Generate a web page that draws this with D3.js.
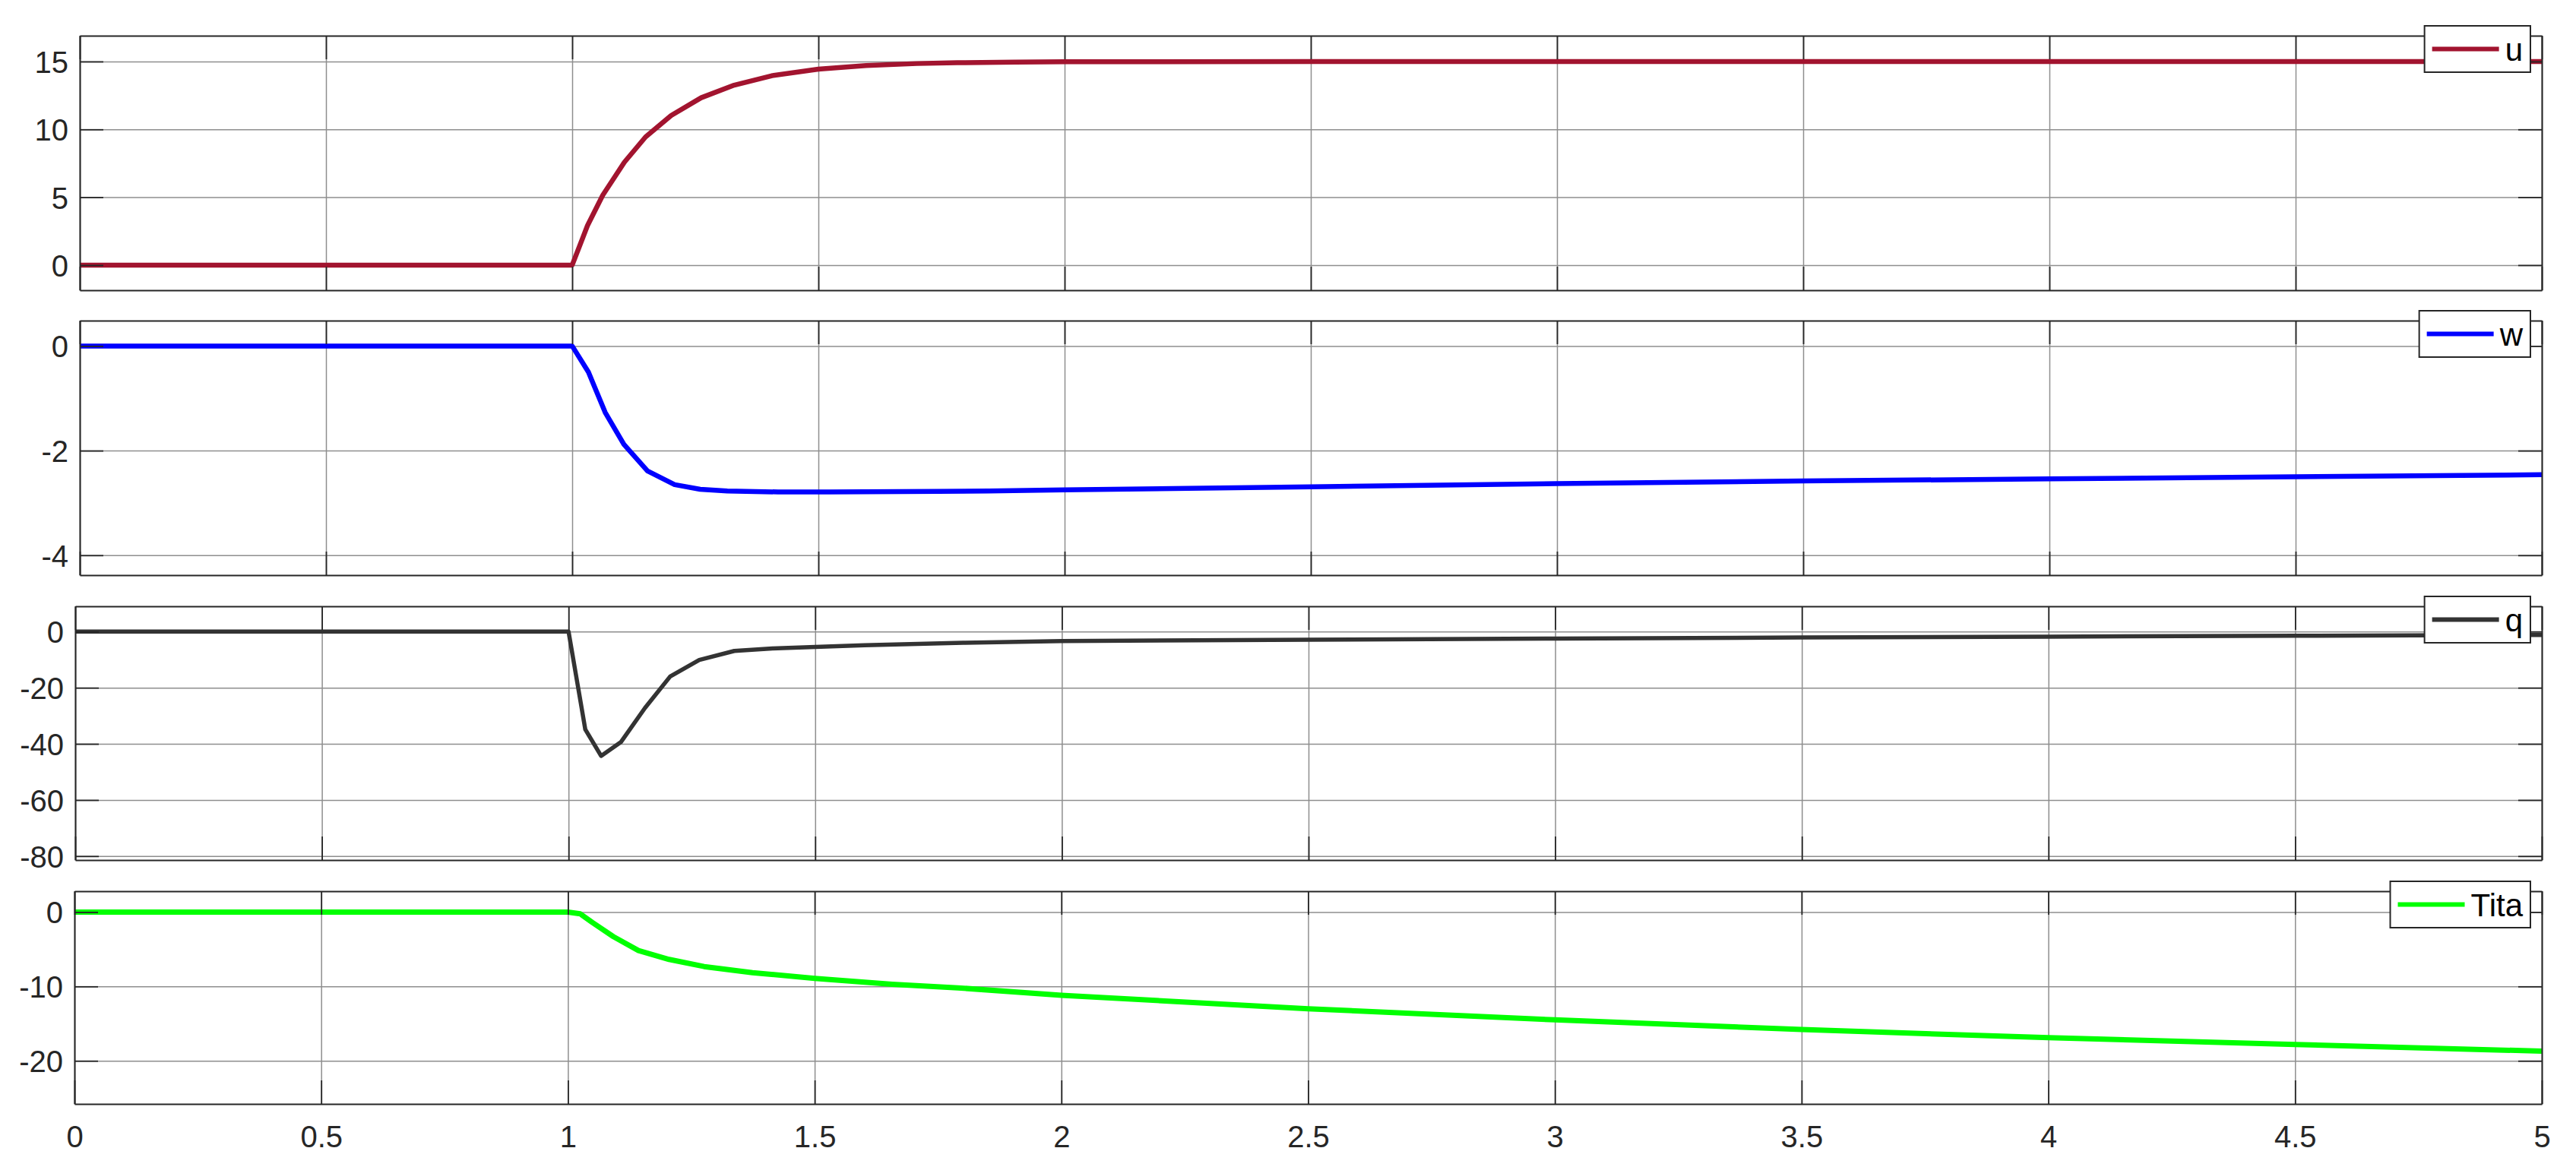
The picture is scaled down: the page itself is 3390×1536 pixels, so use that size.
<!DOCTYPE html>
<html>
<head>
<meta charset="utf-8">
<script src="https://cdn.jsdelivr.net/npm/d3@7"></script>
<style>
  html, body { margin: 0; padding: 0; background: #fff; }
  svg { display: block; }
  text { font-family: "Liberation Sans", Arial, Helvetica, sans-serif; }
</style>
</head>
<body>
<svg id="chart" width="3390" height="1536"></svg>
<script>
// ---------------- data ----------------
const xTicks = [0, 0.5, 1, 1.5, 2, 2.5, 3, 3.5, 4, 4.5, 5];
const xTickLabels = ["0", "0.5", "1", "1.5", "2", "2.5", "3", "3.5", "4", "4.5", "5"];

const seriesNames = ["u", "w", "q", "Tita"];

const uTime = [0, 1, 1.031, 1.062, 1.106, 1.149, 1.201, 1.262, 1.329, 1.406, 1.5, 1.597, 1.7, 1.782, 1.9, 2.0, 2.5, 5];
const uValues = [0, 0, 2.91, 5.15, 7.58, 9.44, 11.02, 12.33, 13.26, 13.96, 14.44, 14.70, 14.85, 14.91, 14.96, 14.98, 15.0, 15.0];

const wTime = [0, 1, 1.033, 1.067, 1.105, 1.153, 1.208, 1.26, 1.315, 1.418, 1.522, 1.743, 1.845, 2, 2.5, 3, 3.5, 4, 4.5, 5];
const wValues = [0, 0, -0.5, -1.27, -1.88, -2.39, -2.65, -2.74, -2.77, -2.79, -2.79, -2.78, -2.77, -2.75, -2.69, -2.63, -2.58, -2.54, -2.50, -2.46];

const qTime = [0, 1, 1.034, 1.066, 1.106, 1.155, 1.206, 1.265, 1.336, 1.413, 1.5, 1.6, 1.8, 2, 2.5, 3, 3.5, 4, 4.5, 5];
const qValues = [0, 0, -34.9, -44.3, -39.4, -27.2, -16.0, -10.1, -6.9, -6.0, -5.5, -4.9, -4.0, -3.4, -2.9, -2.5, -2.1, -1.8, -1.5, -1.2];

const titaTime = [0, 1, 1.025, 1.05, 1.092, 1.143, 1.205, 1.276, 1.374, 1.5, 1.657, 1.79, 2, 2.5, 3, 3.5, 4, 4.5, 5];
const titaValues = [0, 0, -0.24, -1.43, -3.3, -5.18, -6.37, -7.33, -8.15, -8.93, -9.71, -10.19, -11.2, -13.0, -14.5, -15.8, -16.9, -17.8, -18.7];

const yDomains = [[-1.85, 16.9], [-4.38, 0.485], [-81.4, 9], [-25.8, 2.8]];
const yTicks = [[0, 5, 10, 15], [-4, -2, 0], [-80, -60, -40, -20, 0], [-20, -10, 0]];
const yTickLabels = [["0", "5", "10", "15"], ["-4", "-2", "0"], ["-80", "-60", "-40", "-20", "0"], ["-20", "-10", "0"]];

// ---------------- layout / style ----------------
const panels = [
  { name: seriesNames[0], t: uTime, v: uValues, color: "#A2142F", width: 6.5, left: 105, top: 47, bottom: 382 },
  { name: seriesNames[1], t: wTime, v: wValues, color: "#0000FF", width: 6.5, left: 105, top: 422, bottom: 757 },
  { name: seriesNames[2], t: qTime, v: qValues, color: "#333333", width: 5.5, left: 99, top: 798, bottom: 1132 },
  { name: seriesNames[3], t: titaTime, v: titaValues, color: "#00FF00", width: 7, left: 98, top: 1173, bottom: 1453 }
];
const RIGHT = 3345;
const TICK = 31;
const FONT = 40;
const AXIS_COLOR = "#262626";
const GRID_COLOR = "#8e8e8e";

const svg = d3.select("#chart");
svg.append("rect").attr("width", 3390).attr("height", 1536).attr("fill", "#fff");

panels.forEach((p, i) => {
  const x = d3.scaleLinear().domain([0, 5]).range([p.left, RIGHT]);
  const y = d3.scaleLinear().domain(yDomains[i]).range([p.bottom, p.top]);
  const W = RIGHT - p.left, H = p.bottom - p.top;
  const g = svg.append("g");

  g.append("rect").attr("x", p.left).attr("y", p.top).attr("width", W).attr("height", H).attr("fill", "#fff");

  // grid
  const gx = g.append("g").attr("transform", `translate(0,${p.bottom})`)
    .call(d3.axisBottom(x).tickValues(xTicks).tickSize(-H).tickFormat(""));
  const gy = g.append("g").attr("transform", `translate(${p.left},0)`)
    .call(d3.axisLeft(y).tickValues(yTicks[i]).tickSize(-W).tickFormat(""));
  [gx, gy].forEach(a => {
    a.select(".domain").remove();
    a.selectAll("line").attr("stroke", GRID_COLOR).attr("stroke-width", 1.5);
  });

  // data line
  const clipId = "clip" + i;
  svg.append("clipPath").attr("id", clipId).append("rect")
    .attr("x", p.left).attr("y", p.top).attr("width", W).attr("height", H);
  const pts = p.t.map((t, k) => [t, p.v[k]]);
  g.append("path")
    .attr("clip-path", `url(#${clipId})`)
    .attr("d", d3.line().x(d => x(d[0])).y(d => y(d[1]))(pts))
    .attr("fill", "none").attr("stroke", p.color).attr("stroke-width", p.width)
    .attr("stroke-linejoin", "round").attr("stroke-linecap", "butt");

  // axes with inward ticks (box on)
  const isLast = i === panels.length - 1;
  const axB = g.append("g").attr("transform", `translate(0,${p.bottom})`)
    .call(d3.axisBottom(x).tickValues(xTicks).tickSizeInner(-TICK).tickSizeOuter(0).tickPadding(32)
      .tickFormat(isLast ? ((d, k) => xTickLabels[k]) : ""));
  const axT = g.append("g").attr("transform", `translate(0,${p.top})`)
    .call(d3.axisTop(x).tickValues(xTicks).tickSizeInner(-TICK).tickSizeOuter(0).tickFormat(""));
  const axL = g.append("g").attr("transform", `translate(${p.left},0)`)
    .call(d3.axisLeft(y).tickValues(yTicks[i]).tickSizeInner(-TICK).tickSizeOuter(0).tickPadding(15)
      .tickFormat((d, k) => yTickLabels[i][k]));
  const axR = g.append("g").attr("transform", `translate(${RIGHT},0)`)
    .call(d3.axisRight(y).tickValues(yTicks[i]).tickSizeInner(-TICK).tickSizeOuter(0).tickFormat(""));
  [axB, axT, axL, axR].forEach(a => {
    a.selectAll(".domain").attr("stroke", AXIS_COLOR).attr("stroke-width", 2);
    a.selectAll(".tick line").attr("stroke", AXIS_COLOR).attr("stroke-width", 1.8);
    a.selectAll(".tick text").attr("fill", AXIS_COLOR).attr("font-size", FONT)
      .attr("font-family", "'Liberation Sans', Arial, sans-serif");
  });
  axL.selectAll(".tick text").attr("dy", "0.36em");
  axB.selectAll(".tick text").attr("dy", "0.62em");

  // legend (northeast, overlapping top edge)
  const lg = g.append("g");
  const boxH = 61, boxTop = p.top - 13, boxRight = 3330;
  const sampleLen = 88, padL = 10, gap = 8, padR = 10;
  const txt = lg.append("text").text(p.name)
    .attr("font-size", 42).attr("fill", "#000")
    .attr("font-family", "'Liberation Sans', Arial, sans-serif");
  const tw = txt.node().getComputedTextLength();
  const boxW = padL + sampleLen + gap + tw + padR;
  const boxLeft = boxRight - boxW;
  lg.insert("rect", "text").attr("x", boxLeft).attr("y", boxTop).attr("width", boxW).attr("height", boxH)
    .attr("fill", "#fff").attr("stroke", AXIS_COLOR).attr("stroke-width", 2);
  const cy = boxTop + boxH / 2;
  lg.append("line").attr("x1", boxLeft + padL).attr("x2", boxLeft + padL + sampleLen)
    .attr("y1", cy).attr("y2", cy).attr("stroke", p.color).attr("stroke-width", 6);
  txt.attr("x", boxLeft + padL + sampleLen + gap).attr("y", cy + 15);
});
</script>
</body>
</html>
